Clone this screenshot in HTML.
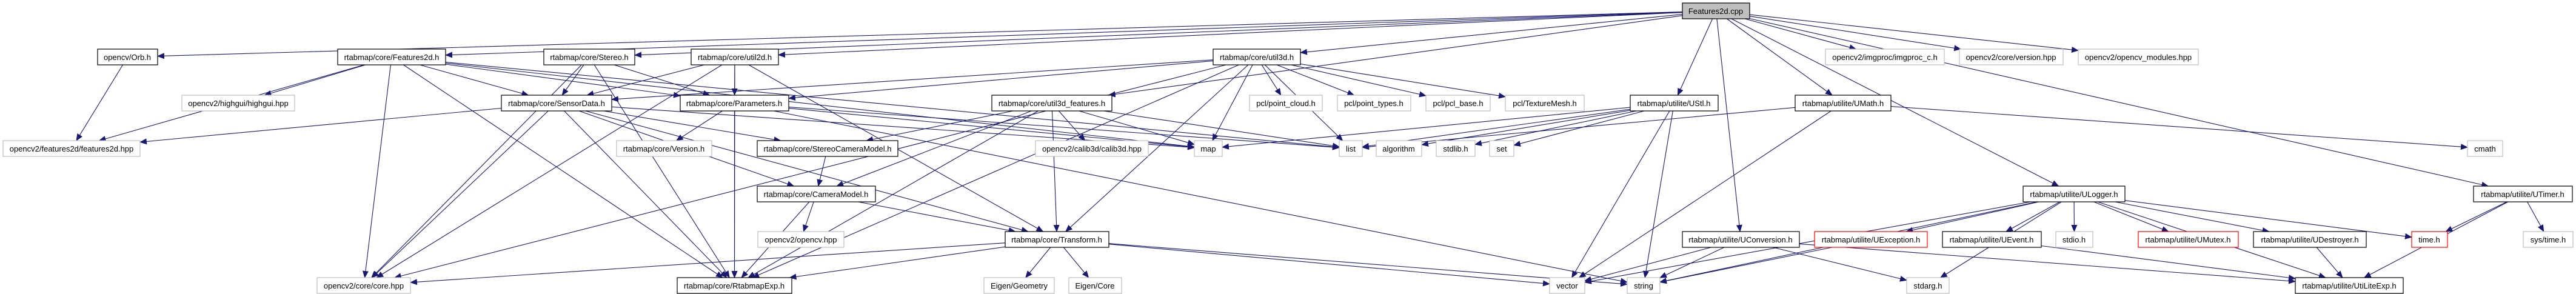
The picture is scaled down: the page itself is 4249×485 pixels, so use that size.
<!DOCTYPE html>
<html><head><meta charset="utf-8">
<style>
html,body{margin:0;padding:0;background:#fff;}
svg{display:block;}
text{font-family:"Liberation Sans",Arial,sans-serif;font-size:13px;fill:#000;}
.d{fill:#fff;stroke:#000;stroke-width:1.2;}
.e{fill:#fff;stroke:#bfbfbf;stroke-width:1.2;}
.r{fill:#fff;stroke:#ff0000;stroke-width:1.2;}
.c{fill:#bfbfbf;stroke:#000;stroke-width:1.2;}
.sh{fill:#444;}
</style></head><body>
<svg id="s" width="4249" height="485" viewBox="0 0 4249 485" xmlns="http://www.w3.org/2000/svg">
<defs><marker id="a" markerWidth="12" markerHeight="10" refX="11" refY="5" orient="auto" markerUnits="userSpaceOnUse"><path d="M0,0 L12,5 L0,10 z" fill="#191970"/></marker></defs>
<g id="edges"></g>
<g id="nodes" text-anchor="middle">
<g id="cpp"><rect class="c" x="2775" y="5" width="111" height="26"/><text x="2830" y="23">Features2d.cpp</text></g>
<g id="orb"><rect class="d" x="161" y="81" width="99" height="26"/><text x="210" y="99">opencv/Orb.h</text></g>
<g id="f2d"><rect class="d" x="557" y="81" width="178" height="26"/><text x="646" y="99">rtabmap/core/Features2d.h</text></g>
<g id="stereo"><rect class="d" x="897" y="81" width="150" height="26"/><text x="972" y="99">rtabmap/core/Stereo.h</text></g>
<g id="util2d"><rect class="d" x="1140" y="81" width="144" height="26"/><text x="1212" y="99">rtabmap/core/util2d.h</text></g>
<g id="util3d"><rect class="d" x="2001" y="81" width="144" height="26"/><text x="2073" y="99">rtabmap/core/util3d.h</text></g>
<g id="imgproc"><rect class="e" x="3011" y="81" width="196" height="26"/><text x="3109" y="99">opencv2/imgproc/imgproc_c.h</text></g>
<g id="cversion"><rect class="e" x="3232" y="81" width="171" height="26"/><text x="3317" y="99">opencv2/core/version.hpp</text></g>
<g id="modules"><rect class="e" x="3428" y="81" width="198" height="26"/><text x="3527" y="99">opencv2/opencv_modules.hpp</text></g>
<g id="highgui"><rect class="e" x="300" y="157" width="186" height="26"/><text x="393" y="175">opencv2/highgui/highgui.hpp</text></g>
<g id="sensordata"><rect class="d" x="827" y="157" width="182" height="26"/><text x="918" y="175">rtabmap/core/SensorData.h</text></g>
<g id="params"><rect class="d" x="1122" y="157" width="179" height="26"/><text x="1211" y="175">rtabmap/core/Parameters.h</text></g>
<g id="u3dfeat"><rect class="d" x="1636" y="157" width="198" height="26"/><text x="1735" y="175">rtabmap/core/util3d_features.h</text></g>
<g id="pointcloud"><rect class="e" x="2061" y="157" width="120" height="26"/><text x="2121" y="175">pcl/point_cloud.h</text></g>
<g id="pointtypes"><rect class="e" x="2206" y="157" width="121" height="26"/><text x="2266" y="175">pcl/point_types.h</text></g>
<g id="pclbase"><rect class="e" x="2352" y="157" width="106" height="26"/><text x="2405" y="175">pcl/pcl_base.h</text></g>
<g id="texmesh"><rect class="e" x="2483" y="157" width="130" height="26"/><text x="2548" y="175">pcl/TextureMesh.h</text></g>
<g id="ustl"><rect class="d" x="2689" y="157" width="145" height="26"/><text x="2761" y="175">rtabmap/utilite/UStl.h</text></g>
<g id="umath"><rect class="d" x="2961" y="157" width="158" height="26"/><text x="3040" y="175">rtabmap/utilite/UMath.h</text></g>
<g id="f2dhpp"><rect class="e" x="5" y="232" width="226" height="26"/><text x="118" y="250">opencv2/features2d/features2d.hpp</text></g>
<g id="version"><rect class="e" x="1017" y="232" width="157" height="26"/><text x="1095" y="250">rtabmap/core/Version.h</text></g>
<g id="stereocam"><rect class="d" x="1249" y="232" width="232" height="26"/><text x="1365" y="250">rtabmap/core/StereoCameraModel.h</text></g>
<g id="calib3d"><rect class="e" x="1708" y="232" width="186" height="26"/><text x="1801" y="250">opencv2/calib3d/calib3d.hpp</text></g>
<g id="map"><rect class="e" x="1970" y="232" width="46" height="26"/><text x="1993" y="250">map</text></g>
<g id="list"><rect class="e" x="2209" y="232" width="38" height="26"/><text x="2228" y="250">list</text></g>
<g id="algorithm"><rect class="e" x="2270" y="232" width="75" height="26"/><text x="2307" y="250">algorithm</text></g>
<g id="stdlib"><rect class="e" x="2369" y="232" width="64" height="26"/><text x="2401" y="250">stdlib.h</text></g>
<g id="set"><rect class="e" x="2457" y="232" width="40" height="26"/><text x="2477" y="250">set</text></g>
<g id="cmath"><rect class="e" x="4070" y="232" width="58" height="26"/><text x="4099" y="250">cmath</text></g>
<g id="cameramodel"><rect class="d" x="1249" y="307" width="195" height="26"/><text x="1346" y="325">rtabmap/core/CameraModel.h</text></g>
<g id="ulogger"><rect class="d" x="3337" y="307" width="168" height="26"/><text x="3421" y="325">rtabmap/utilite/ULogger.h</text></g>
<g id="utimer"><rect class="d" x="4080" y="307" width="163" height="26"/><text x="4161" y="325">rtabmap/utilite/UTimer.h</text></g>
<g id="opencvhpp"><rect class="e" x="1250" y="382" width="142" height="26"/><text x="1321" y="400">opencv2/opencv.hpp</text></g>
<g id="transform"><rect class="d" x="1658" y="382" width="171" height="26"/><text x="1743" y="400">rtabmap/core/Transform.h</text></g>
<g id="uconv"><rect class="d" x="2775" y="382" width="193" height="26"/><text x="2871" y="400">rtabmap/utilite/UConversion.h</text></g>
<g id="uexc"><rect class="r" x="2993" y="382" width="186" height="26"/><text x="3086" y="400">rtabmap/utilite/UException.h</text></g>
<g id="uevent"><rect class="d" x="3204" y="382" width="163" height="26"/><text x="3285" y="400">rtabmap/utilite/UEvent.h</text></g>
<g id="stdio"><rect class="e" x="3391" y="382" width="61" height="26"/><text x="3421" y="400">stdio.h</text></g>
<g id="umutex"><rect class="r" x="3527" y="382" width="165" height="26"/><text x="3609" y="400">rtabmap/utilite/UMutex.h</text></g>
<g id="udestroyer"><rect class="d" x="3717" y="382" width="186" height="26"/><text x="3810" y="400">rtabmap/utilite/UDestroyer.h</text></g>
<g id="timeh"><rect class="r" x="3978" y="382" width="59" height="26"/><text x="4007" y="400">time.h</text></g>
<g id="systime"><rect class="e" x="4162" y="382" width="82" height="26"/><text x="4203" y="400">sys/time.h</text></g>
<g id="corehpp"><rect class="e" x="523" y="458" width="154" height="26"/><text x="600" y="476">opencv2/core/core.hpp</text></g>
<g id="rtabexp"><rect class="d" x="1117" y="458" width="189" height="26"/><text x="1211" y="476">rtabmap/core/RtabmapExp.h</text></g>
<g id="eigengeom"><rect class="e" x="1623" y="458" width="116" height="26"/><text x="1681" y="476">Eigen/Geometry</text></g>
<g id="eigencore"><rect class="e" x="1763" y="458" width="87" height="26"/><text x="1806" y="476">Eigen/Core</text></g>
<g id="vector"><rect class="e" x="2556" y="458" width="58" height="26"/><text x="2585" y="476">vector</text></g>
<g id="string"><rect class="e" x="2684" y="458" width="54" height="26"/><text x="2711" y="476">string</text></g>
<g id="stdarg"><rect class="e" x="3145" y="458" width="70" height="26"/><text x="3180" y="476">stdarg.h</text></g>
<g id="utilite"><rect class="d" x="3786" y="458" width="178" height="26"/><text x="3875" y="476">rtabmap/utilite/UtiLiteExp.h</text></g>
</g>
</svg>
<script>
var E={
cpp:["orb","f2d","stereo","util2d","util3d","u3dfeat","ustl","umath","uconv","ulogger","utimer","imgproc","cversion","modules"],
orb:["f2dhpp"],
f2d:["f2dhpp","highgui","sensordata","params","corehpp","rtabexp","list","map"],
stereo:["corehpp","params","rtabexp","sensordata"],
util2d:["params","transform","corehpp","rtabexp","sensordata"],
sensordata:["f2dhpp","corehpp","stereocam","cameramodel","transform","rtabexp","map"],
params:["version","rtabexp","map","list","string"],
u3dfeat:["stereocam","cameramodel","rtabexp","calib3d","map","transform","list"],
util3d:["sensordata","params","pointcloud","pointtypes","pclbase","texmesh","map","list","transform","rtabexp","corehpp"],
stereocam:["cameramodel"],
cameramodel:["opencvhpp","rtabexp","transform"],
transform:["rtabexp","eigengeom","eigencore","corehpp","vector","string"],
ustl:["list","algorithm","stdlib","set","vector","string","map"],
umath:["list","vector","cmath"],
uconv:["vector","string","stdarg","utilite"],
ulogger:["uexc","uevent","stdio","umutex","udestroyer","timeh","utilite","stdarg","vector","string"],
uevent:["utilite"],udestroyer:["utilite"],
utimer:["timeh","systime","utilite"],
uexc:["string"]
};
function box(id){var r=document.querySelector('#'+id+' rect');var x=+r.getAttribute('x'),y=+r.getAttribute('y'),w=+r.getAttribute('width'),h=+r.getAttribute('height');return{x:x,y:y,w:w,h:h,cx:x+w/2,cy:y+h/2};}
function clip(b,tx,ty){var dx=tx-b.cx,dy=ty-b.cy;var s=Math.min(dx?b.w/2/Math.abs(dx):1e9,dy?b.h/2/Math.abs(dy):1e9);return[b.cx+dx*s,b.cy+dy*s];}
var g=document.getElementById('edges'),out='';
for(var s in E){var a=box(s);E[s].forEach(function(t){var b=box(t);
var p=clip(a,b.cx,b.cy),q=clip(b,a.cx,a.cy);
out+='<path d="M'+p[0].toFixed(1)+','+p[1].toFixed(1)+' L'+q[0].toFixed(1)+','+q[1].toFixed(1)+'" stroke="#191970" stroke-width="1.1" fill="none" marker-end="url(#a)"/>';});}
g.innerHTML=out;
</script>
</body></html>
